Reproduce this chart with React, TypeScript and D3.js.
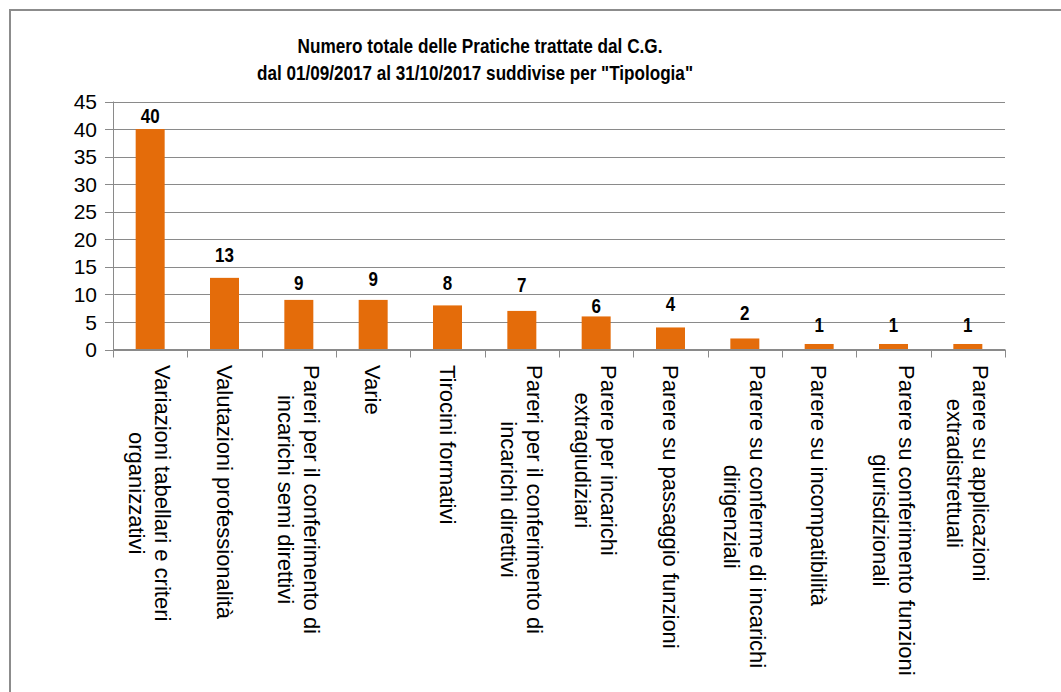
import React, { useEffect, useRef } from "react";
import * as d3 from "d3";

const categories = [
  "Variazioni tabellari e criteri organizzativi",
  "Valutazioni professionalità",
  "Pareri per il conferimento di incarichi semi direttivi",
  "Varie",
  "Tirocini formativi",
  "Pareri per il conferimento di incarichi direttivi",
  "Parere per incarichi extragiudiziari",
  "Parere su passaggio funzioni",
  "Parere su conferme di incarichi dirigenziali",
  "Parere su incompatibilità",
  "Parere su conferimento funzioni giurisdizionali",
  "Parere su applicazioni extradistrettuali",
];

// how the category names wrap on the axis
const labelLines = [
  ["Variazioni tabellari e criteri", "organizzativi"],
  ["Valutazioni professionalità"],
  ["Pareri per il conferimento di", "incarichi semi direttivi"],
  ["Varie"],
  ["Tirocini formativi"],
  ["Pareri per il conferimento di", "incarichi direttivi"],
  ["Parere per incarichi", "extragiudiziari"],
  ["Parere su passaggio funzioni"],
  ["Parere su conferme di incarichi", "dirigenziali"],
  ["Parere su incompatibilità"],
  ["Parere su conferimento funzioni", "giurisdizionali"],
  ["Parere su applicazioni", "extradistrettuali"],
];

const values = [40, 13, 9, 9, 8, 7, 6, 4, 2, 1, 1, 1];

const yTicks = [0, 5, 10, 15, 20, 25, 30, 35, 40, 45];

const titleLines = [
  "Numero totale delle Pratiche trattate dal C.G.",
  'dal 01/09/2017 al 31/10/2017 suddivise per "Tipologia"',
];

// the value labels were nudged by hand in the original, px above bar top
const labelNudge = [6, 15.5, 10, 13.5, 15, 18.5, 3, 16, 18, 11.5, 11.5, 11.5];

const App = () => {
  const ref = useRef<SVGSVGElement>(null);

  useEffect(() => {
    const width = 1061;
    const height = 692;
    const left = 113;
    const right = 1005;
    const top = 101.5;
    const bottom = 349.5;
    const grey = "#8a8a8a";

    const svg = d3.select(ref.current);
    svg.selectAll("*").remove();

    // outer frame (right and bottom run off the picture)
    svg
      .append("rect")
      .attr("x", 10)
      .attr("y", 10)
      .attr("width", width)
      .attr("height", height)
      .attr("fill", "white")
      .attr("stroke", "#8c8c8c")
      .attr("stroke-width", 2);

    const x = d3
      .scaleBand()
      .domain(categories)
      .range([left, right])
      .paddingInner(0.61)
      .paddingOuter(0.305);

    const y = d3.scaleLinear().domain([0, 45]).range([bottom, top]);

    // grid + y ticks
    const yg = svg.append("g");
    yg.selectAll("line")
      .data(yTicks)
      .join("line")
      .attr("x1", left - 8)
      .attr("x2", right)
      .attr("y1", (d) => Math.round(y(d)) + 0.5)
      .attr("y2", (d) => Math.round(y(d)) + 0.5)
      .attr("stroke", grey)
      .attr("stroke-width", 1);
    yg.selectAll("text")
      .data(yTicks)
      .join("text")
      .attr("x", left - 16)
      .attr("y", (d) => y(d))
      .attr("dy", "0.36em")
      .attr("text-anchor", "end")
      .attr("font-family", "'Liberation Sans', Arial, sans-serif")
      .attr("font-size", 21)
      .attr("fill", "#000")
      .text((d) => d);

    // y axis line
    svg
      .append("line")
      .attr("x1", left + 0.5)
      .attr("x2", left + 0.5)
      .attr("y1", top)
      .attr("y2", bottom)
      .attr("stroke", grey);

    // bars
    svg
      .append("g")
      .selectAll("rect")
      .data(values)
      .join("rect")
      .attr("x", (d, i) => x(categories[i])!)
      .attr("width", x.bandwidth())
      .attr("y", (d) => y(d))
      .attr("height", (d) => y(0) - y(d))
      .attr("fill", "#E46C0A");

    // x axis with ticks at band edges
    const step = x.step();
    const edges = d3.range(categories.length + 1).map((i) => left + i * step);
    svg
      .append("line")
      .attr("x1", left)
      .attr("x2", right)
      .attr("y1", bottom)
      .attr("y2", bottom)
      .attr("stroke", grey);
    svg
      .append("g")
      .selectAll("line")
      .data(edges)
      .join("line")
      .attr("x1", (d) => Math.round(d) + 0.5)
      .attr("x2", (d) => Math.round(d) + 0.5)
      .attr("y1", bottom)
      .attr("y2", bottom + 8)
      .attr("stroke", grey);

    // value labels (a bit taller than wide, like the original)
    svg
      .append("g")
      .selectAll("text")
      .data(values)
      .join("text")
      .attr(
        "transform",
        (d, i) =>
          `translate(${x(categories[i])! + x.bandwidth() / 2},${y(d) - labelNudge[i]}) scale(1,1.2)`
      )
      .attr("text-anchor", "middle")
      .attr("font-family", "'Liberation Sans', Arial, sans-serif")
      .attr("font-weight", "bold")
      .attr("font-size", 17)
      .attr("fill", "#000")
      .text((d) => d);

    // rotated category labels
    const lh = 26;
    const lg = svg
      .append("g")
      .selectAll("g")
      .data(categories)
      .join("g")
      .attr(
        "transform",
        (d) => `translate(${x(d)! + x.bandwidth() / 2},365) rotate(90)`
      );
    lg.each(function (d, i) {
      const g = d3.select(this);
      const lines = labelLines[i];
      const texts = lines.map((t, j) =>
        g
          .append("text")
          .attr("y", (j - (lines.length - 1) / 2) * lh)
          .attr("dy", "0.36em")
          .attr("font-family", "'Liberation Sans', Arial, sans-serif")
          .attr("font-size", 22)
          .attr("fill", "#000")
          .text(t)
      );
      const lens = texts.map((t) => (t.node() as SVGTextElement).getComputedTextLength());
      const maxLen = d3.max(lens)!;
      texts.forEach((t) => t.attr("x", maxLen / 2).attr("text-anchor", "middle"));
    });

    // title
    const tl = svg
      .append("g")
      .attr("font-family", "'Liberation Sans Narrow', 'Arial Narrow', sans-serif")
      .attr("font-weight", "bold")
      .attr("font-size", 21)
      .attr("fill", "#000")
      .attr("text-anchor", "middle");
    tl.append("text").attr("x", 480).attr("y", 53).attr("textLength", 365).attr("lengthAdjust", "spacingAndGlyphs").text(titleLines[0]);
    tl.append("text").attr("x", 475).attr("y", 80).attr("textLength", 436).attr("lengthAdjust", "spacingAndGlyphs").text(titleLines[1]);
  }, []);

  return (
    <svg
      ref={ref}
      width={1061}
      height={692}
      style={{ position: "absolute", left: 0, top: 0, background: "white" }}
    />
  );
};

export default App;
